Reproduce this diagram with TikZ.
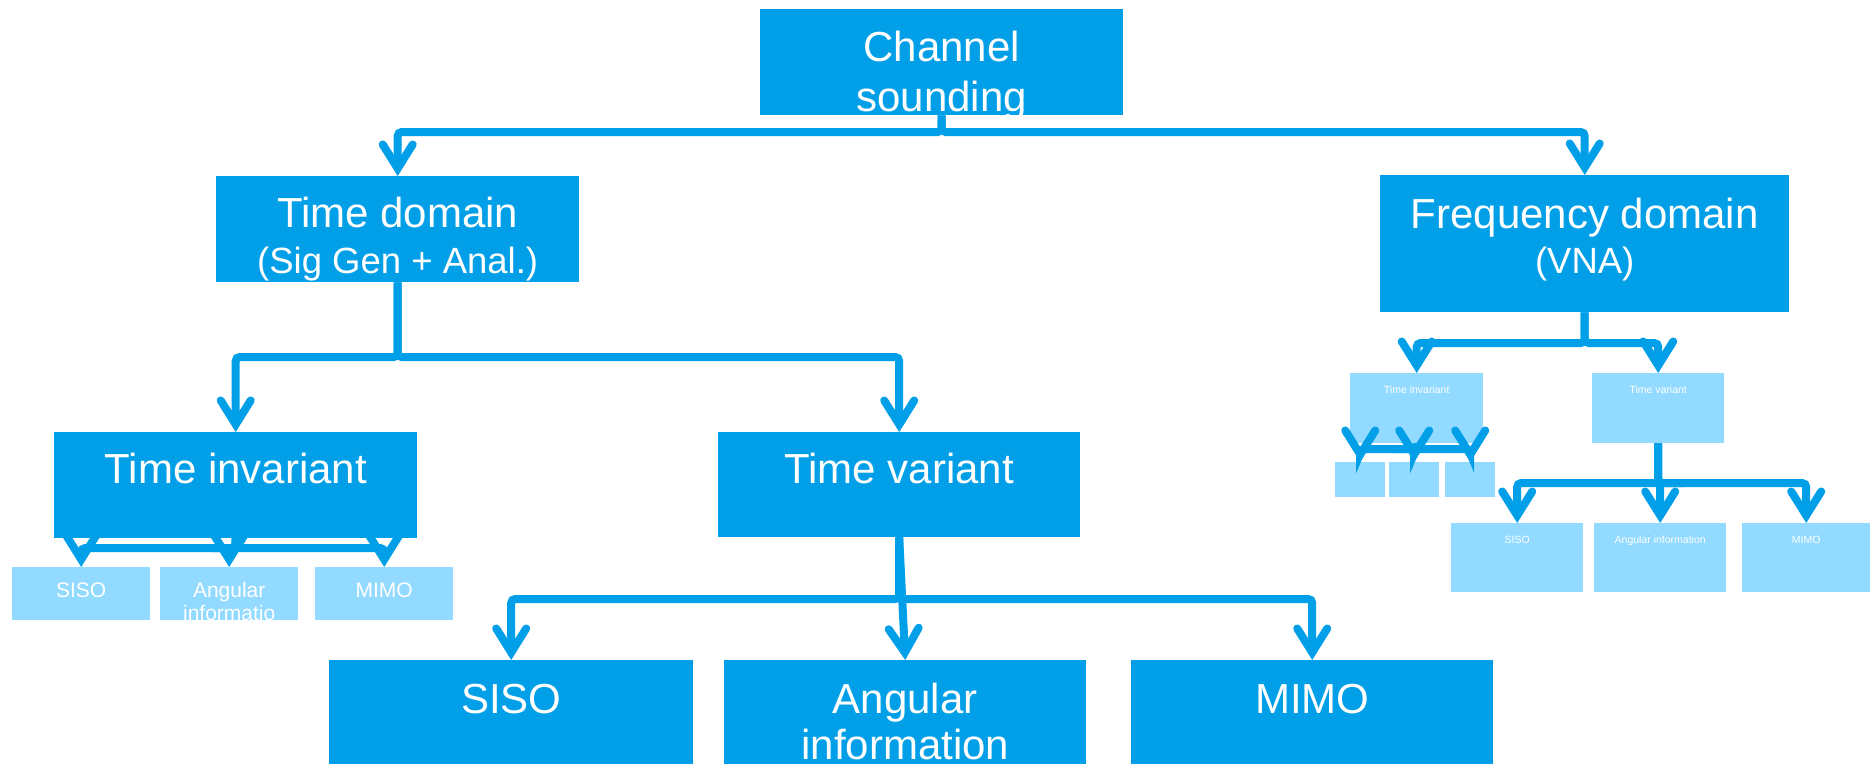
\documentclass[tikz,border=0pt]{standalone}
\usepackage{fontspec}
\setmainfont{Liberation Sans}
\usepackage{xcolor}
\usetikzlibrary{arrows.meta}
\definecolor{skyblue}{RGB}{0,159,232}
\definecolor{paleblue}{RGB}{146,218,255}
\pgfdeclarelayer{back}
\pgfsetlayers{back,main}

\begin{document}
\begin{tikzpicture}[x=1pt,y=-1pt,
    box/.style={fill=skyblue,text=white,inner sep=0pt,align=center,anchor=north west,
        font=\fontsize{42}{48}\selectfont},
    subbox/.style={box,fill=paleblue,font=\fontsize{21}{23}\selectfont},
    tinybox/.style={box,fill=paleblue,font=\fontsize{10.5}{12}\selectfont},
    link/.style={draw=skyblue,line width=8pt,rounded corners=4pt,
        -{Straight Barb[length=24pt,width=30pt,line join=miter,line cap=round]}}]

\useasboundingbox (0,0) rectangle (1870,764);

\node[box,minimum width=363pt,text height=102pt,text depth=4pt,
    font=\fontsize{42}{50}\selectfont] (cs) at (760,9) {Channel\\sounding};
\node[box,minimum width=363pt,text height=97pt,text depth=9pt,
    font=\fontsize{42}{46}\selectfont] (td) at (216,176)
    {Time domain\\{\fontsize{36.5}{46}\selectfont(Sig Gen + Anal.)}};
\node[box,minimum width=409pt,text height=98pt,text depth=39pt,
    font=\fontsize{42}{45}\selectfont] (fd) at (1380,175)
    {Frequency domain\\{\fontsize{36.5}{45}\selectfont(VNA)}};

\node[box,minimum width=363pt,text height=51pt,text depth=55pt] (ti) at (54,432) {Time invariant};
\node[box,minimum width=362pt,text height=51pt,text depth=54pt] (tv) at (718,432) {Time variant};

\node[box,minimum width=364pt,text height=53pt,text depth=51pt] (siso) at (329,660) {SISO};
\node[box,minimum width=362pt,text height=99pt,text depth=5pt,
    font=\fontsize{42}{46}\selectfont] (ang) at (724,660) {Angular\\information};
\node[box,minimum width=362pt,text height=53pt,text depth=51pt] (mimo) at (1131,660) {MIMO};

\node[subbox,minimum width=138pt,text height=30pt,text depth=23pt] (tisiso) at (12,567) {SISO};
\node[subbox,minimum width=138pt,text height=53pt,text depth=0pt] (tiang) at (160,567) {Angular\\informatio};
\node[subbox,minimum width=138pt,text height=30pt,text depth=23pt] (timimo) at (315,567) {MIMO};

\node[tinybox,minimum width=133pt,text height=20pt,text depth=50pt] (fti) at (1350,373) {Time invariant};
\node[tinybox,minimum width=132pt,text height=20pt,text depth=50pt] (ftv) at (1592,373) {Time variant};
\node[tinybox,minimum width=50pt,minimum height=35pt] (ftia) at (1335,462) {};
\node[tinybox,minimum width=50pt,minimum height=35pt] (ftib) at (1389,462) {};
\node[tinybox,minimum width=50pt,minimum height=35pt] (ftic) at (1445,462) {};
\node[tinybox,minimum width=132pt,text height=20pt,text depth=49pt] (fsiso) at (1451,523) {SISO};
\node[tinybox,minimum width=132pt,text height=20pt,text depth=49pt] (fang) at (1594,523) {Angular information};
\node[tinybox,minimum width=128pt,text height=20pt,text depth=49pt] (fmimo) at (1742,523) {MIMO};

\coordinate (csbar) at (0,132);
\coordinate (tdbar) at (0,357);
\coordinate (tibar) at (0,548);
\coordinate (tvbar) at (0,599);
\coordinate (fdbar) at (0,343);
\coordinate (ftibar) at (0,449);
\coordinate (ftvbar) at (0,483);

\foreach \kid in {td,fd}
    \draw[link] (cs.south) -- (cs.south |- csbar) -| (\kid.north);
\foreach \kid in {ti,tv}
    \draw[link] (td.south) -- (td.south |- tdbar) -| (\kid.north);
\begin{pgfonlayer}{back}
\foreach \kid in {tisiso,tiang,timimo}
    \draw[link] (ti.south) -- (ti.south |- tibar) -| (\kid.north);
\end{pgfonlayer}
\foreach \kid in {siso,mimo}
    \draw[link] (tv.south) -- (tv.south |- tvbar) -| (\kid.north);
\draw[link] (tv.south) -- (ang.north);

\foreach \kid in {fti,ftv}
    \draw[link] (fd.south) -- (fd.south |- fdbar) -| (\kid.north);
\foreach \kid in {ftia,ftib,ftic}
    \draw[link] (fti.south) -- (fti.south |- ftibar) -| (\kid.north);
\foreach \kid in {fsiso,fang,fmimo}
    \draw[link] (ftv.south) -- (ftv.south |- ftvbar) -| (\kid.north);
\end{tikzpicture}
\end{document}
